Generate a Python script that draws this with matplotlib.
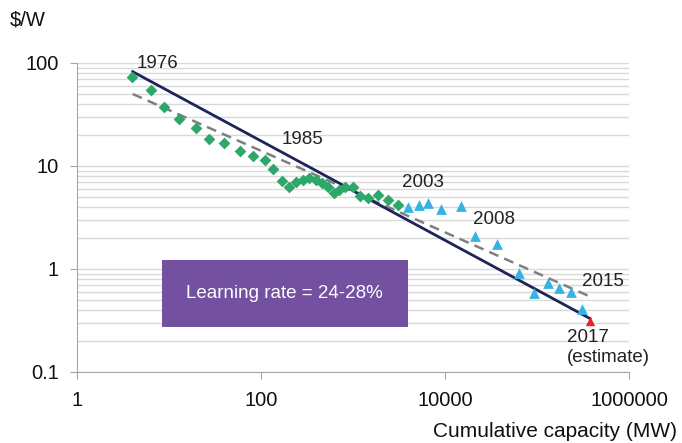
import matplotlib
matplotlib.use("Agg")
import matplotlib.pyplot as plt
from matplotlib.ticker import LogLocator, NullFormatter, FixedLocator, FixedFormatter

plt.rcParams['font.family'] = ['Liberation Sans', 'DejaVu Sans']

# early years (green diamonds): cumulative MW, $/W
early_mw = [4.0, 6.4, 8.8, 12.9, 19.7, 27.4, 39.9, 59.1, 82.5, 110, 136, 168, 203, 240, 284,
            335, 396, 457, 540, 627, 710, 819, 1009, 1191, 1466, 1884, 2420, 3110]
early_price = [73.6, 54.7, 37.7, 28.4, 23.2, 18.3, 16.6, 14.0, 12.5, 11.4, 9.35, 7.15, 6.3, 7.04,
               7.3, 7.7, 7.3, 6.9, 6.3, 5.5, 5.9, 6.2, 6.3, 5.15, 4.9, 5.2, 4.7, 4.2]

# later years (blue triangles)
late_mw = [3990, 5260, 6590, 8950, 14900, 21200, 37000, 63700, 93400, 132700, 174800, 232000, 305000]
late_price = [3.97, 4.2, 4.4, 3.83, 4.1, 2.09, 1.75, 0.92, 0.58, 0.73, 0.65, 0.60, 0.41]

# 2017 estimate (red triangle)
est_mw = [377000]
est_price = [0.31]

# fitted lines (end points)
fit_solid_mw = [4.03, 377000]
fit_solid_price = [82.4, 0.33]
fit_dash_mw = [4.03, 377000]
fit_dash_price = [50, 0.54]

year_labels = ['1976', '1985', '2003', '2008', '2015', '2017\n(estimate)']
year_mw = [4.49, 169, 3410, 20000, 305000, 210000]
year_price = [97.8, 17.9, 6.84, 3.03, 0.753, 0.172]

fig = plt.figure(figsize=(6.82, 4.43), dpi=100)
ax = fig.add_axes([0.1129, 0.1603, 0.8094, 0.6975])

ax.set_xscale('log')
ax.set_yscale('log')
ax.set_xlim(1, 1e6)
ax.set_ylim(0.1, 100)

# horizontal grid (major + minor)
ax.yaxis.set_minor_locator(LogLocator(base=10, subs=range(2, 10)))
ax.yaxis.set_minor_formatter(NullFormatter())
ax.grid(True, axis='y', which='both', color='#d9d9d9', linewidth=1.0)
ax.set_axisbelow(True)

ax.plot(fit_dash_mw, fit_dash_price, color='#808080', linestyle=(0, (4, 2.5)), linewidth=1.8, zorder=2)
ax.plot(fit_solid_mw, fit_solid_price, color='#1c2459', linewidth=2.0, zorder=3)

ax.scatter(early_mw, early_price, marker='D', s=36, color='#2ea86a', zorder=4, linewidths=0)
ax.scatter(late_mw, late_price, marker='^', s=60, color='#35b3e4', zorder=4, linewidths=0)
ax.scatter(est_mw, est_price, marker='^', s=45, color='#e8202a', zorder=5, linewidths=0)

for lab, xm, yp in zip(year_labels, year_mw, year_price):
    ax.text(xm, yp, lab, fontsize=13.5, color='#222222', ha='left', va='center', linespacing=1.2)

# learning-rate box
box_x, box_y, box_w, box_h = 0.1535, 0.146, 0.4455, 0.215
box = plt.Rectangle((box_x, box_y), box_w, box_h, transform=ax.transAxes,
                    facecolor='#7450a0', edgecolor='none', zorder=5)
ax.add_patch(box)
ax.text(box_x + box_w / 2, box_y + box_h / 2, 'Learning rate = 24-28%', transform=ax.transAxes,
        fontsize=13.5, color='white', ha='center', va='center', zorder=6)

ax.xaxis.set_major_locator(FixedLocator([1, 100, 10000, 1000000]))
ax.xaxis.set_major_formatter(FixedFormatter(['1', '100', '10000', '1000000']))
ax.xaxis.set_minor_locator(FixedLocator([]))
ax.yaxis.set_major_locator(FixedLocator([0.1, 1, 10, 100]))
ax.yaxis.set_major_formatter(FixedFormatter(['0.1', '1', '10', '100']))

for side in ['top', 'right']:
    ax.spines[side].set_visible(False)
for side in ['left', 'bottom']:
    ax.spines[side].set_color('#a6a6a6')
ax.tick_params(axis='both', which='major', labelsize=14.5, colors='#a6a6a6',
               labelcolor='#111111', length=5)
ax.tick_params(axis='x', which='major', pad=9)
ax.tick_params(axis='y', which='major', pad=8)
ax.tick_params(axis='y', which='minor', length=0)

fig.text(0.015, 0.955, '$/W', fontsize=14.5, color='#111111', ha='left', va='center')
fig.text(0.993, 0.025, 'Cumulative capacity (MW)', fontsize=15, color='#111111',
         ha='right', va='center')

fig.savefig('out.png', dpi=100)
